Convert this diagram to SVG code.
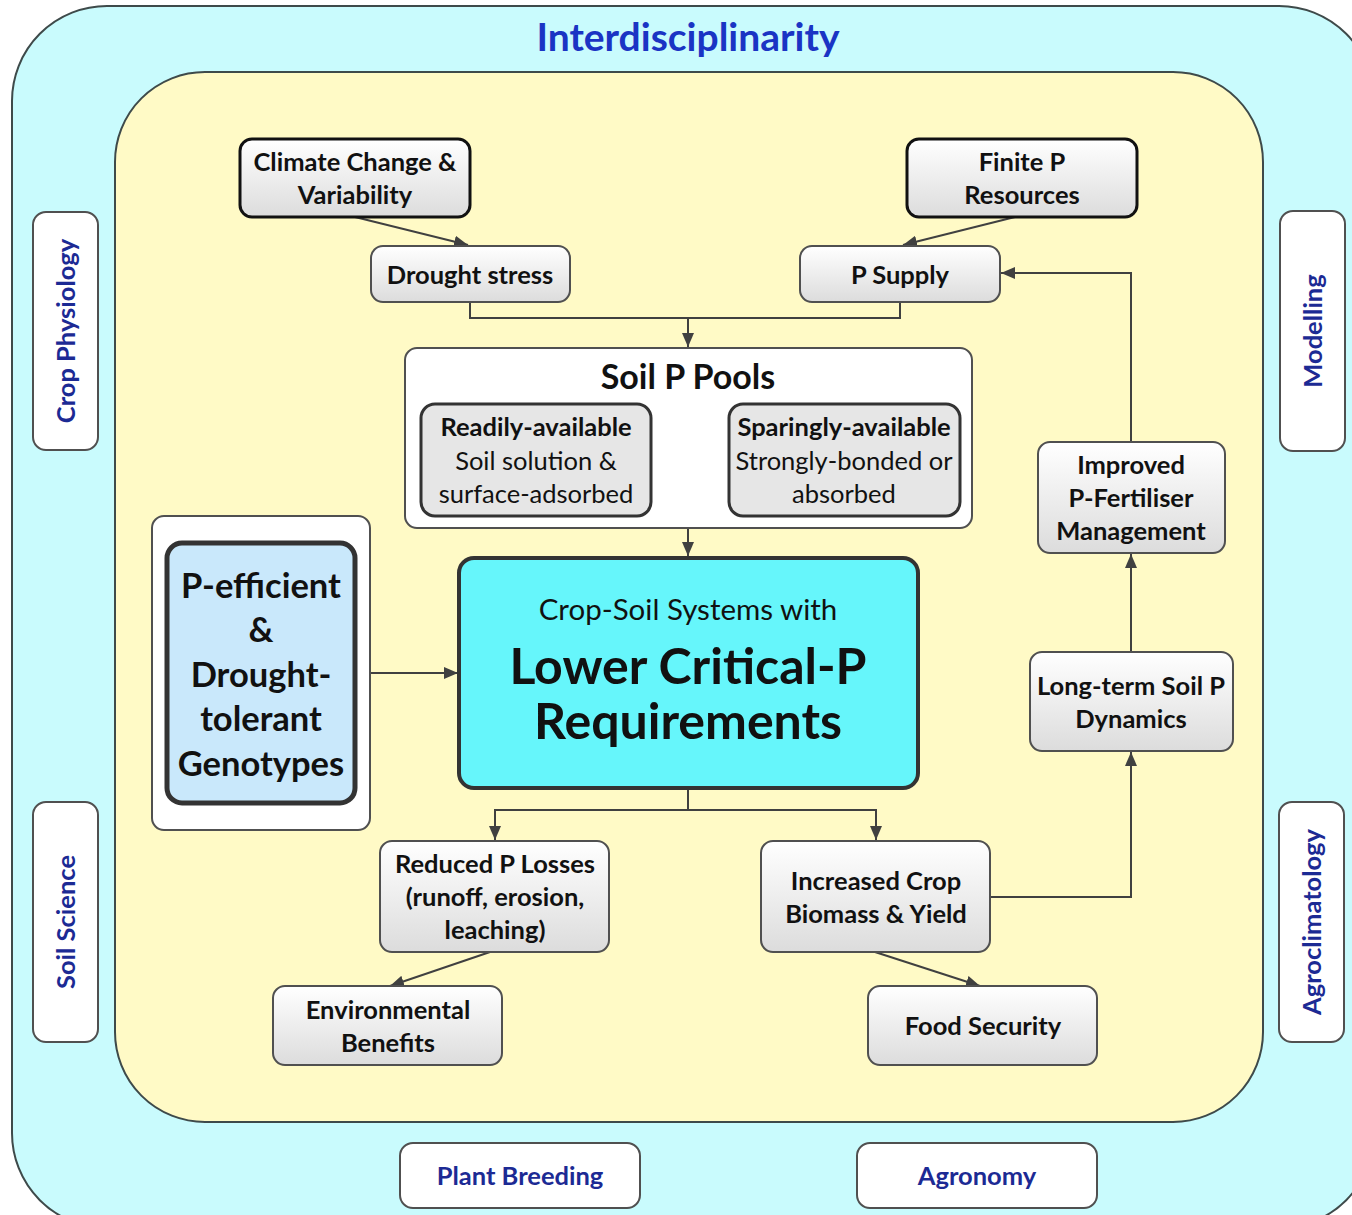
<svg xmlns="http://www.w3.org/2000/svg" width="1352" height="1215" viewBox="0 0 1352 1215">
  <style>
    text { font-family: Lato, "Open Sans", "Liberation Sans", sans-serif; text-anchor: middle; dominant-baseline: central; fill: #111; }
    .b { font-weight: bold; }
    .disc { font-weight: bold; fill: #1c2a94; font-size: 25.5px; }
    .node { fill: url(#g); stroke: #505050; stroke-width: 2; }
    .nodeK { fill: url(#g); stroke: #111; stroke-width: 3; }
    .lab { fill: #fff; stroke: #505050; stroke-width: 2; }
    .pool { fill: #e6e6e6; stroke: #333; stroke-width: 3; }
    .t { font-size: 25.5px; font-weight: bold; }
    .r { font-size: 25.5px; }
    .c { fill: none; stroke: #404040; stroke-width: 2; }
  </style>
  <defs>
    <linearGradient id="g" x1="0" y1="0" x2="0" y2="1">
      <stop offset="0" stop-color="#ffffff"/>
      <stop offset="1" stop-color="#dcdcdc"/>
    </linearGradient>
    <marker id="ah" viewBox="0 0 14 12" refX="14" refY="6" markerWidth="14" markerHeight="12" markerUnits="userSpaceOnUse" orient="auto-start-reverse">
      <path d="M0,0 L14,6 L0,12 z" fill="#404040"/>
    </marker>
  </defs>

  <!-- outer interdisciplinary frame -->
  <rect x="12" y="6" width="1362" height="1222" rx="95" fill="#c9fbfd" stroke="#3e4a4a" stroke-width="2"/>
  <text x="688" y="36" style="font-size:39px;font-weight:bold;fill:#1a34c4">Interdisciplinarity</text>

  <!-- inner systems area -->
  <rect x="115" y="72" width="1148" height="1050" rx="90" fill="#fffac6" stroke="#3e4a4a" stroke-width="2"/>

  <!-- discipline labels -->
  <g id="crop-physiology">
    <rect class="lab" x="33" y="212" width="65" height="238" rx="13"/>
    <text class="disc" transform="translate(65,331) rotate(-90)">Crop Physiology</text>
  </g>
  <g id="soil-science">
    <rect class="lab" x="33" y="802" width="65" height="240" rx="13"/>
    <text class="disc" transform="translate(65,922) rotate(-90)">Soil Science</text>
  </g>
  <g id="modelling">
    <rect class="lab" x="1280" y="211" width="65" height="240" rx="13"/>
    <text class="disc" transform="translate(1312,331) rotate(-90)">Modelling</text>
  </g>
  <g id="agroclimatology">
    <rect class="lab" x="1279" y="802" width="65" height="240" rx="13"/>
    <text class="disc" transform="translate(1311,922) rotate(-90)">Agroclimatology</text>
  </g>
  <g id="plant-breeding">
    <rect class="lab" x="400" y="1143" width="240" height="65" rx="13"/>
    <text class="disc" x="520" y="1175">Plant Breeding</text>
  </g>
  <g id="agronomy">
    <rect class="lab" x="857" y="1143" width="240" height="65" rx="13"/>
    <text class="disc" x="977" y="1175">Agronomy</text>
  </g>

  <!-- connectors -->
  <g id="connectors">
    <path class="c" d="M355,217 L468,245" marker-end="url(#ah)"/>
    <path class="c" d="M1015,217 L903,245" marker-end="url(#ah)"/>
    <path class="c" d="M470,302 V318 H900 V302"/>
    <path class="c" d="M688,318 V347" marker-end="url(#ah)"/>
    <path class="c" d="M652,460 H728" marker-start="url(#ah)" marker-end="url(#ah)"/>
    <path class="c" d="M688,528 V556" marker-end="url(#ah)"/>
    <path class="c" d="M370,673 H458" marker-end="url(#ah)"/>
    <path class="c" d="M688,789 V810 H495 V840" marker-end="url(#ah)"/>
    <path class="c" d="M688,810 H876 V840" marker-end="url(#ah)"/>
    <path class="c" d="M490,952 L390,986" marker-end="url(#ah)"/>
    <path class="c" d="M875,952 L980,986" marker-end="url(#ah)"/>
    <path class="c" d="M990,897 H1131 V752" marker-end="url(#ah)"/>
    <path class="c" d="M1131,652 V554" marker-end="url(#ah)"/>
    <path class="c" d="M1131,442 V273 H1001" marker-end="url(#ah)"/>
  </g>

  <!-- drivers -->
  <g id="climate-change">
    <rect class="nodeK" x="240" y="139" width="230" height="78" rx="12"/>
    <text class="t" x="355" y="161">Climate Change &amp;</text>
    <text class="t" x="355" y="194">Variability</text>
  </g>
  <g id="finite-p">
    <rect class="nodeK" x="907" y="139" width="230" height="78" rx="12"/>
    <text class="t" x="1022" y="161">Finite P</text>
    <text class="t" x="1022" y="194">Resources</text>
  </g>
  <g id="drought-stress">
    <rect class="node" x="371" y="246" width="199" height="56" rx="12"/>
    <text class="t" x="470" y="274">Drought stress</text>
  </g>
  <g id="p-supply">
    <rect class="node" x="800" y="246" width="200" height="56" rx="12"/>
    <text class="t" x="900" y="274">P Supply</text>
  </g>

  <!-- soil P pools -->
  <g id="soil-p-pools">
    <rect x="405" y="348" width="567" height="180" rx="12" fill="#ffffff" stroke="#505050" stroke-width="2"/>
    <text class="b" x="688" y="375" style="font-size:34px">Soil P Pools</text>
    <g id="readily-available">
      <rect class="pool" x="421" y="404" width="230" height="112" rx="14"/>
      <text class="t" x="536" y="426">Readily-available</text>
      <text class="r" x="536" y="460">Soil solution &amp;</text>
      <text class="r" x="536" y="493">surface-adsorbed</text>
    </g>
    <g id="sparingly-available">
      <rect class="pool" x="729" y="404" width="231" height="112" rx="14"/>
      <text class="t" x="844" y="426">Sparingly-available</text>
      <text class="r" x="844" y="460">Strongly-bonded or</text>
      <text class="r" x="844" y="493">absorbed</text>
    </g>
  </g>

  <!-- genotypes -->
  <g id="genotypes">
    <rect x="152" y="516" width="218" height="314" rx="12" fill="#ffffff" stroke="#505050" stroke-width="2"/>
    <rect x="167" y="543" width="188" height="260" rx="15" fill="#c9e8fb" stroke="#333" stroke-width="5"/>
    <g class="b" style="font-size:34.5px">
      <text x="261" y="584">P-efficient</text>
      <text x="261" y="628">&amp;</text>
      <text x="261" y="673">Drought-</text>
      <text x="261" y="717">tolerant</text>
      <text x="261" y="762">Genotypes</text>
    </g>
  </g>

  <!-- central outcome -->
  <g id="critical-p">
    <rect x="459" y="558" width="459" height="230" rx="15" fill="#66f6fb" stroke="#333" stroke-width="4"/>
    <text x="688" y="608" style="font-size:29.5px">Crop-Soil Systems with</text>
    <text class="b" x="688" y="665" style="font-size:50px">Lower Critical-P</text>
    <text class="b" x="688" y="720" style="font-size:50px">Requirements</text>
  </g>

  <!-- consequences -->
  <g id="reduced-losses">
    <rect class="node" x="380" y="841" width="229" height="111" rx="12"/>
    <text class="t" x="495" y="863">Reduced P Losses</text>
    <text class="t" x="495" y="896">(runoff, erosion,</text>
    <text class="t" x="495" y="929">leaching)</text>
  </g>
  <g id="increased-yield">
    <rect class="node" x="761" y="841" width="229" height="111" rx="12"/>
    <text class="t" x="876" y="880">Increased Crop</text>
    <text class="t" x="876" y="913">Biomass &amp; Yield</text>
  </g>
  <g id="environmental-benefits">
    <rect class="node" x="273" y="986" width="229" height="79" rx="12"/>
    <text class="t" x="388" y="1009">Environmental</text>
    <text class="t" x="388" y="1042">Benefits</text>
  </g>
  <g id="food-security">
    <rect class="node" x="868" y="986" width="229" height="79" rx="12"/>
    <text class="t" x="983" y="1025">Food Security</text>
  </g>
  <g id="long-term-dynamics">
    <rect class="node" x="1030" y="652" width="203" height="99" rx="12"/>
    <text class="t" x="1131" y="685">Long-term Soil P</text>
    <text class="t" x="1131" y="718">Dynamics</text>
  </g>
  <g id="fertiliser-management">
    <rect class="node" x="1038" y="442" width="187" height="111" rx="12"/>
    <text class="t" x="1131" y="464">Improved</text>
    <text class="t" x="1131" y="497">P-Fertiliser</text>
    <text class="t" x="1131" y="530">Management</text>
  </g>
</svg>
